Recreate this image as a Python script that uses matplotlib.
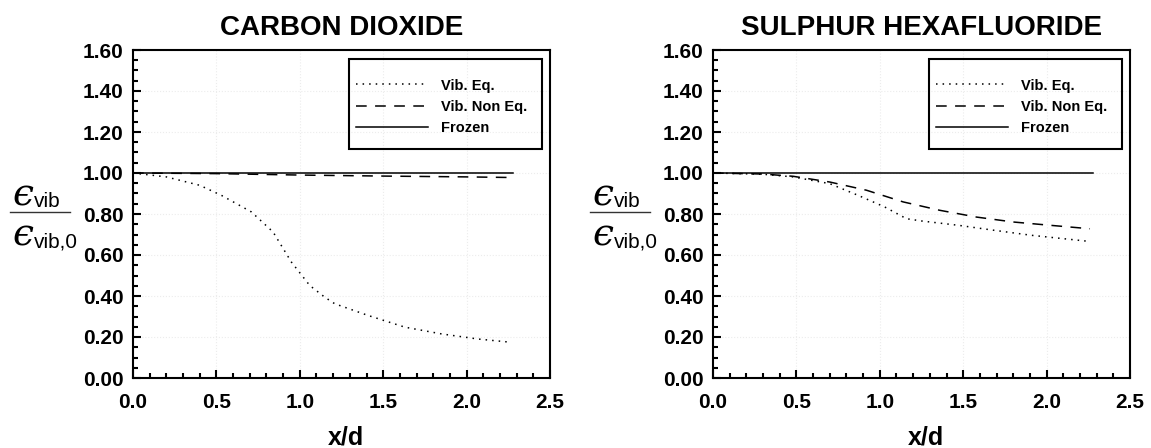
import numpy as np
import matplotlib.pyplot as plt
from matplotlib.lines import Line2D
from matplotlib.patches import Rectangle
from matplotlib.ticker import MultipleLocator, FormatStrFormatter

plt.rcParams['font.family'] = ['Liberation Sans', 'DejaVu Sans']

# CO2 data
co2_eq_x = [0.0, 0.2, 0.4, 0.53, 0.71, 0.84, 0.95, 1.06, 1.15, 1.21, 1.41, 1.63, 1.85, 2.07, 2.27]
co2_eq_y = [1.0, 0.981, 0.94, 0.891, 0.81, 0.712, 0.565, 0.451, 0.394, 0.362, 0.305, 0.248, 0.215, 0.19, 0.174]
co2_neq_x = [0.0, 0.5, 1.0, 1.5, 2.0, 2.27]
co2_neq_y = [1.0, 0.997, 0.99, 0.985, 0.981, 0.978]
co2_fr_x = [0.0, 2.28]
co2_fr_y = [1.0, 1.0]

# SF6 data
sf6_eq_x = [0.0, 0.3, 0.48, 0.70, 0.87, 1.03, 1.16, 1.25, 1.47, 1.69, 1.91, 2.26]
sf6_eq_y = [1.0, 0.994, 0.981, 0.948, 0.891, 0.834, 0.777, 0.766, 0.745, 0.72, 0.696, 0.666]
sf6_neq_x = [0.0, 0.3, 0.48, 0.70, 0.92, 1.14, 1.36, 1.58, 1.80, 2.02, 2.26]
sf6_neq_y = [1.0, 0.995, 0.984, 0.956, 0.916, 0.859, 0.818, 0.785, 0.761, 0.745, 0.728]
sf6_fr_x = [0.0, 2.28]
sf6_fr_y = [1.0, 1.0]

titles = ["CARBON DIOXIDE", "SULPHUR HEXAFLUORIDE"]
etiquetas = ["Vib. Eq.", "Vib. Non Eq.", "Frozen"]
datos = [(co2_eq_x, co2_eq_y, co2_neq_x, co2_neq_y, co2_fr_x, co2_fr_y),
         (sf6_eq_x, sf6_eq_y, sf6_neq_x, sf6_neq_y, sf6_fr_x, sf6_fr_y)]

W, H = 1151, 448
fig = plt.figure(figsize=(W/100, H/100), dpi=100)

def px(x, y):
    return x/W, 1 - y/H

for k in range(2):
    off = 580*k
    ax = fig.add_axes([(133+off)/W, 1-378/H, 417/W, 328/H])
    ex, ey, nx, ny, fx, fy = datos[k]
    ax.plot(ex, ey, color="black", linestyle=(0, (1, 3.3)), linewidth=1.1, label=etiquetas[0])
    ax.plot(nx, ny, color="black", linestyle=(0, (7, 5.5)), linewidth=1.1, label=etiquetas[1])
    ax.plot(fx, fy, color="black", linestyle="-", linewidth=1.1, label=etiquetas[2])
    ax.set_xlim(0, 2.5)
    ax.set_ylim(0, 1.6)
    ax.xaxis.set_major_locator(MultipleLocator(0.5))
    ax.xaxis.set_minor_locator(MultipleLocator(0.1))
    ax.yaxis.set_major_locator(MultipleLocator(0.2))
    ax.yaxis.set_minor_locator(MultipleLocator(0.05))
    ax.xaxis.set_major_formatter(FormatStrFormatter('%.1f'))
    ax.yaxis.set_major_formatter(FormatStrFormatter('%.2f'))
    ax.tick_params(which='both', direction='in', top=False, right=False, width=1.5)
    ax.tick_params(which='major', length=6, labelsize=15)
    ax.tick_params(which='minor', length=3.5)
    ax.tick_params(axis='x', which='major', pad=11)
    ax.tick_params(axis='y', which='major', pad=7)
    for lab in ax.get_xticklabels() + ax.get_yticklabels():
        lab.set_fontweight('bold')
    for s in ax.spines.values():
        s.set_linewidth(1.5)
    ax.grid(True, which='major', color='#ececec', linestyle=':', linewidth=0.8)
    ax.set_title(titles[k], fontsize=20, fontweight='bold', pad=11)
    ax.set_xlabel("x/d", fontsize=18, fontweight='bold')
    ax.xaxis.set_label_coords(0.51, -0.145)

    # legend box drawn as its own frame
    ax.add_patch(Rectangle((0.518, 0.6976), 0.463, 0.275, transform=ax.transAxes,
                           fill=False, edgecolor='black', linewidth=1.5, zorder=5))
    ax.legend(loc='upper left', bbox_to_anchor=(0.535, 0.913), frameon=False,
              prop={'size': 10.5, 'weight': 'bold'}, handlelength=4.9,
              handletextpad=0.95, borderpad=0, borderaxespad=0, labelspacing=0.5)

    # y label: eps_vib / eps_vib,0
    eps_font = ['DejaVu Serif', 'DejaVu Sans']
    fig.text(*px(12+off, 205), '\u03f5', family=eps_font, style='italic', fontsize=27,
             ha='left', va='baseline')
    fig.text(*px(34+off, 207), 'vib', fontsize=15, ha='left', va='baseline')
    fig.add_artist(Line2D([(10+off)/W, (70+off)/W], [1-212/H, 1-212/H],
                          color='#333333', linewidth=1.0))
    fig.text(*px(12+off, 245), '\u03f5', family=eps_font, style='italic', fontsize=27,
             ha='left', va='baseline')
    fig.text(*px(34+off, 247), 'vib,0', fontsize=15, ha='left', va='baseline')

plt.savefig("out.png", dpi=100)
